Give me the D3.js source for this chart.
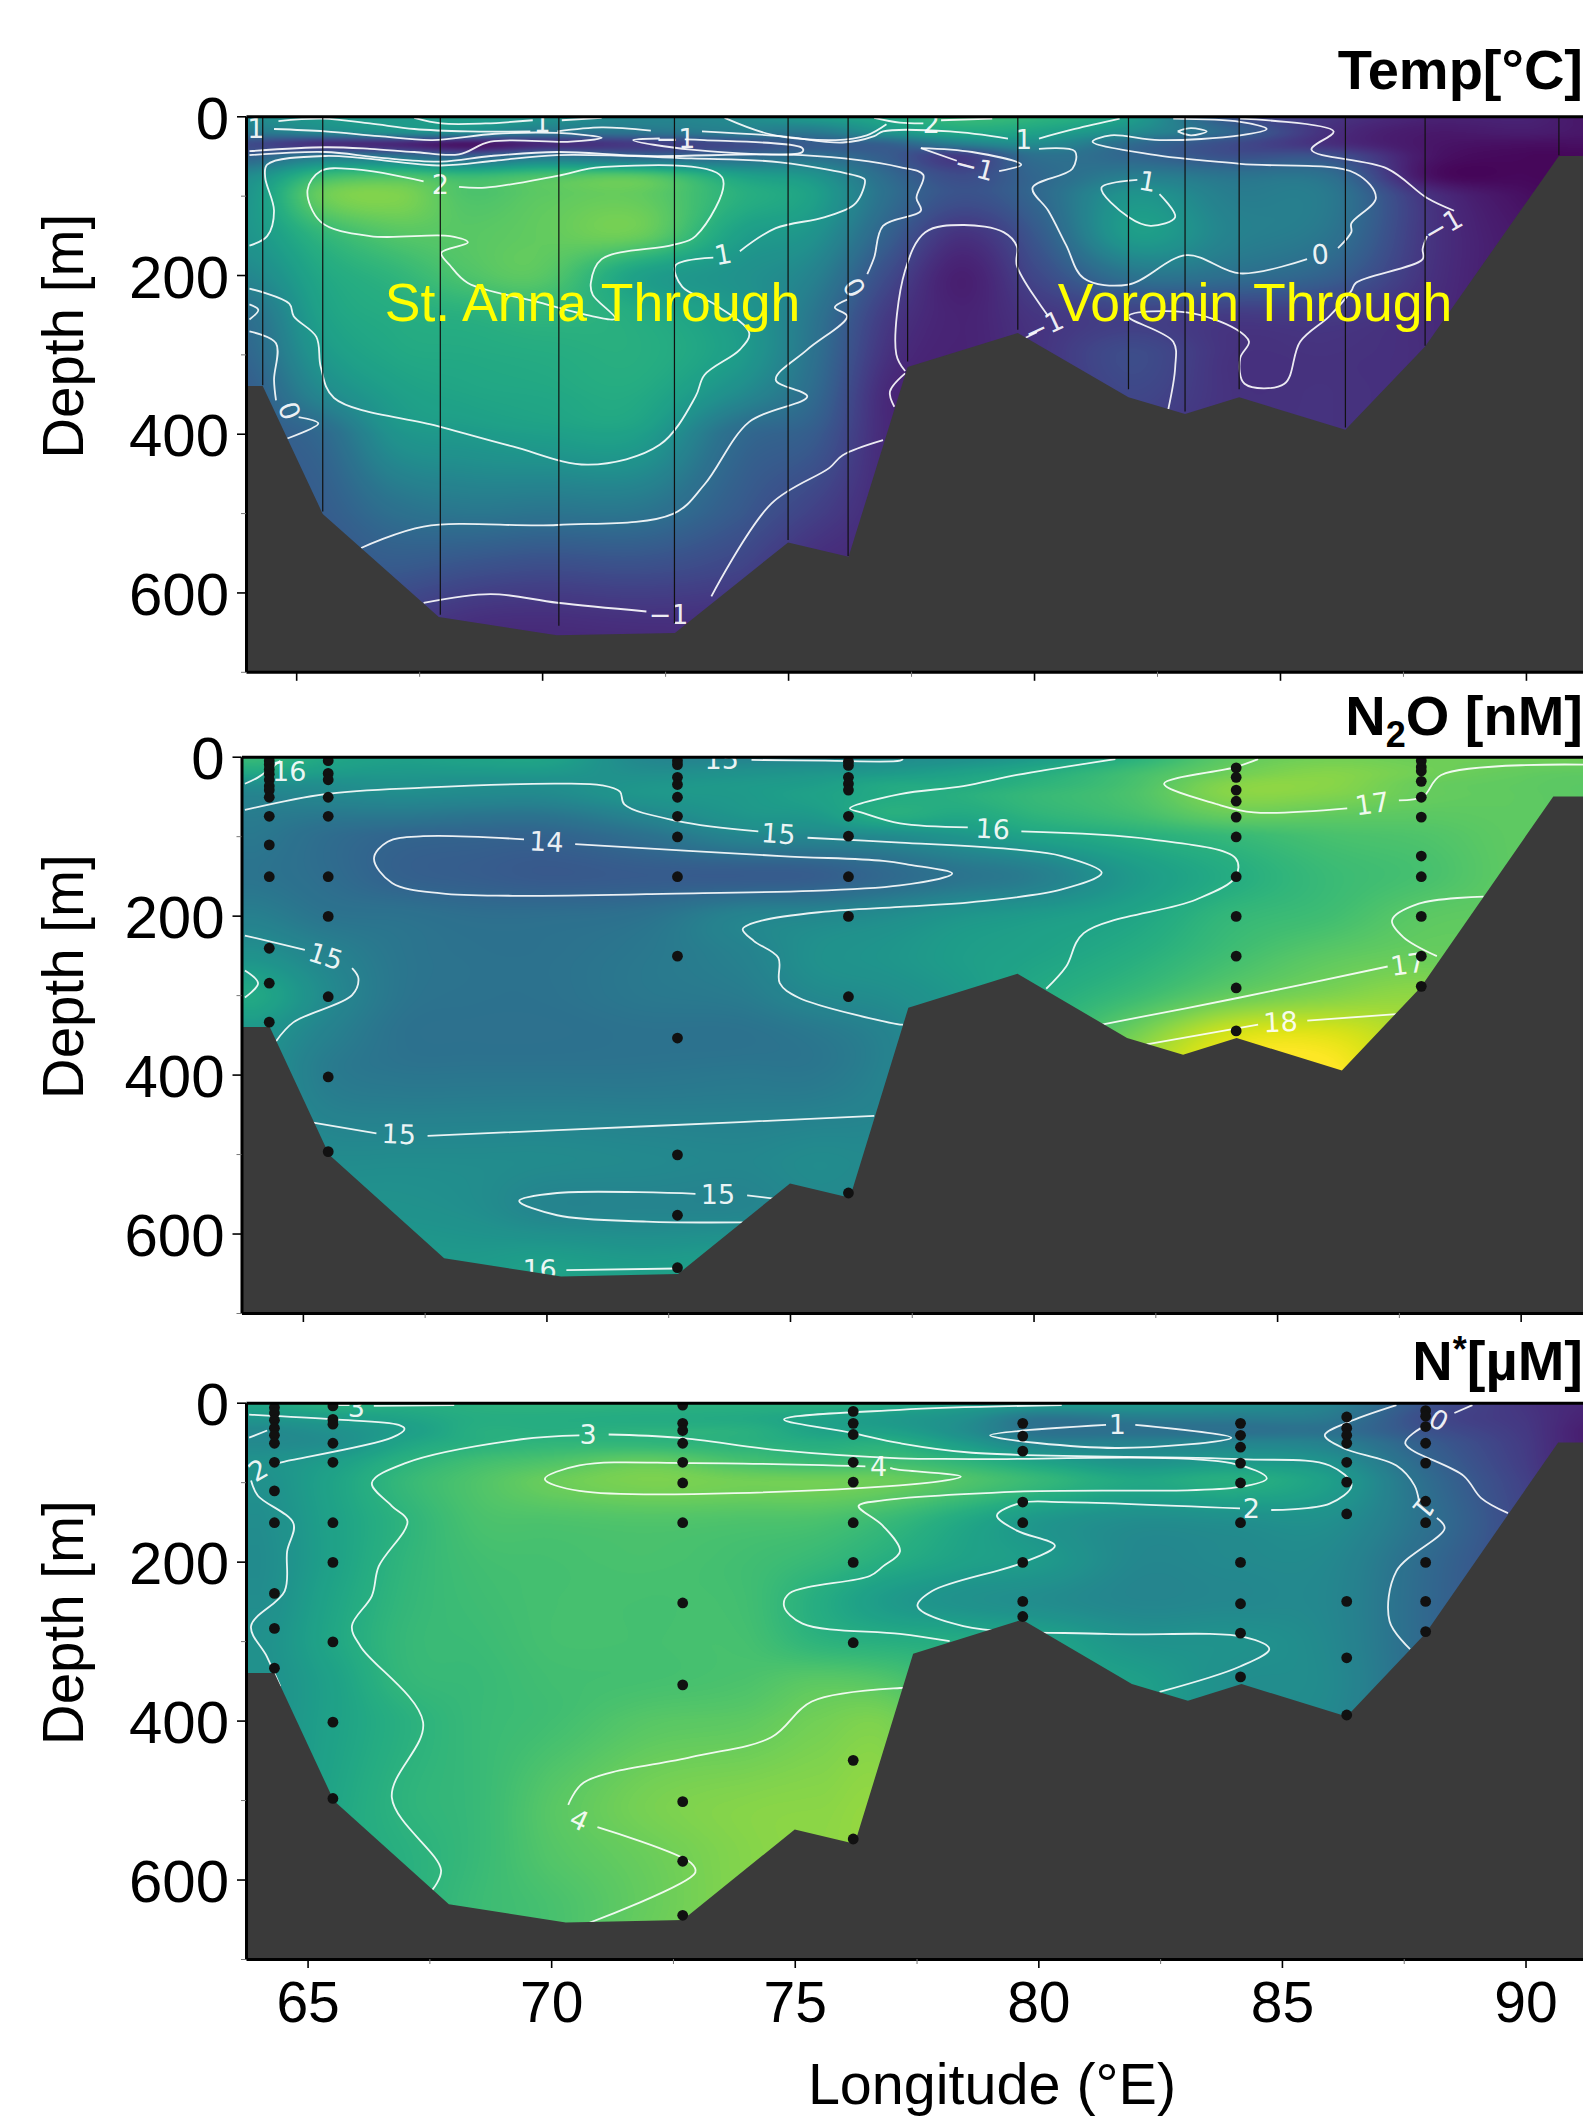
<!DOCTYPE html>
<html>
<head>
<meta charset="utf-8">
<script src="https://cdn.jsdelivr.net/npm/d3@7"></script>
<style>
  html, body { margin: 0; padding: 0; background: #fff; }
  svg { display: block; }
  text { font-family: "Liberation Sans", Arial, sans-serif; }
  .clabel { font-family: "DejaVu Sans", sans-serif; font-size: 27px; fill: #fff; fill-opacity: .92; text-anchor: middle; dominant-baseline: central; }
</style>
</head>
<body>
<script>
// ---- seafloor, shared by the three sections
const bathyLon = [63.5, 64.32, 65.54, 67.9, 70.3, 72.7, 75.0, 76.23, 77.43, 79.67, 81.92, 83.07, 84.17, 86.33, 87.95, 90.67, 91.5];
const bathyDepth = [340, 340, 501, 631, 654, 651, 537, 555, 316, 273, 354, 375, 354, 395, 290, 50, 50];

const lonTicks = [65, 70, 75, 80, 85, 90];
const lonMinor = [67.5, 72.5, 77.5, 82.5, 87.5];
const depthTicks = [0, 200, 400, 600];
const depthMinor = [100, 300, 500, 700];

// ---- field values, one list per longitude, one value per depth in fieldDepths
const fieldLons = [64, 65.5, 67, 68.5, 70, 72, 74, 75.5, 77, 78.5, 80, 82, 84, 86, 88, 90, 91.3];
const fieldDepths = [0, 20, 35, 50, 75, 100, 150, 200, 250, 300, 350, 400, 500, 570, 630, 700];

const tempField = [
  [.7, .3, -.6, -.2, .7, .9, .9, .6, .1, -.1, -.3, -.3, -.3, -.3, -.3, -.3],
  [1, .6, -1.1, .3, 1.7, 2.2, 1.6, 1.3, 1.15, .95, .6, -.05, -.3, -.4, -.5, -.5],
  [1, .8, -1.2, .2, 1.9, 2.4, 2, 1.6, 1.4, 1.3, 1.1, .85, .1, -.35, -.8, -1],
  [1.1, .7, -1.5, -.2, 1.7, 1.95, 2.05, 1.95, 1.5, 1.35, 1.25, 1, .25, -.5, -1.05, -1.3],
  [.9, .3, -1.2, .2, 1.9, 2.1, 2.15, 2.05, 1.6, 1.4, 1.3, 1.1, .2, -.6, -1.1, -1.3],
  [.6, .2, -.9, -.1, 2, 2.15, 2.2, 1.15, 1.4, 1.45, 1.35, 1.1, .2, -.55, -1.05, -1.3],
  [.7, .4, -.6, -.05, 1.2, 1.5, 1.15, .85, 1, 1.05, .7, 0, -.35, -.75, -1.1, -1.2],
  [1.1, .3, -.3, .1, .9, 1.15, .85, .5, .25, .15, 0, -.3, -.8, -1.15, -1.3, -1.4],
  [1.3, .9, -.2, -.3, 0, .1, -.2, -.6, -.9, -1.05, -1.2, -1.2, -1.2, -1.2, -1.2, -1.2],
  [1.7, 1.3, .4, -.9, -.6, -.5, -1.05, -1.35, -1.3, -1.3, -1.3, -1.3, -1.3, -1.3, -1.3, -1.3],
  [1.6, 1.2, .7, .1, -.1, -.1, -.4, -.7, -1, -1.05, -1.1, -1.1, -1.1, -1.1, -1.1, -1.1],
  [1.1, .7, 0, -.1, .4, .9, 1.05, .2, -.8, -.6, -.7, -.9, -.9, -.9, -.9, -.9],
  [-.5, -.1, -.6, -.5, .2, .4, .5, .1, -.9, -1.05, -1.05, -1.05, -1.05, -1.05, -1.05, -1.05],
  [-1, -1.1, -1.1, -.5, .1, .3, .2, -.2, -.9, -1.05, -1.05, -1.05, -1.05, -1.05, -1.05, -1.05],
  [-1.3, -1.45, -1.5, -1.5, -1.55, -1.05, -1, -1.05, -1.15, -1.15, -1.15, -1.15, -1.15, -1.15, -1.15, -1.15],
  [-1.3, -1.4, -1.6, -1.7, -1.7, -1.6, -1.5, -1.5, -1.5, -1.5, -1.5, -1.5, -1.5, -1.5, -1.5, -1.5],
  [-1.5, -1.5, -1.6, -1.7, -1.7, -1.7, -1.7, -1.7, -1.7, -1.7, -1.7, -1.7, -1.7, -1.7, -1.7, -1.7]
];

const n2oField = [
  [16.4, 15.9, 15.2, 14.9, 14.7, 14.6, 14.5, 14.8, 15.3, 15.9, 15.4, 15.3, 15.3, 15.3, 15.3, 15.3],
  [15.9, 15.6, 15.2, 15, 14.6, 14.3, 14.3, 14.5, 14.9, 15.1, 14.85, 14.7, 15.1, 15.3, 15.4, 15.4],
  [15.7, 15.5, 15.3, 15.1, 14.6, 14.1, 14, 14.45, 14.55, 14.55, 14.45, 14.55, 15.1, 15.3, 15.5, 15.5],
  [15.8, 15.5, 15.2, 15.05, 14.5, 14.05, 13.9, 14.35, 14.45, 14.45, 14.4, 14.55, 15.1, 15.2, 15.5, 15.6],
  [15.8, 15.5, 15.2, 15.05, 14.5, 14.05, 13.8, 14.35, 14.45, 14.45, 14.4, 14.55, 15.1, 14.95, 15.6, 15.9],
  [15, 15.2, 15.4, 15.4, 14.95, 14.4, 13.85, 14.45, 14.6, 14.6, 14.45, 14.55, 15.05, 14.95, 15.5, 16],
  [14.9, 15.3, 15.5, 15.5, 15.4, 14.95, 13.85, 14.9, 14.85, 14.7, 14.45, 14.6, 15, 14.95, 15.6, 16],
  [14.95, 15.4, 15.6, 15.7, 15.5, 15, 13.9, 15, 15.25, 15.05, 14.6, 14.6, 15.1, 15.1, 15.6, 16],
  [15.1, 15.5, 15.9, 15.95, 16.05, 15.1, 14.2, 15.15, 15.4, 15.2, 14.9, 14.9, 15.1, 15.1, 15.6, 16],
  [15.2, 15.7, 15.95, 16.1, 15.9, 15.4, 14.5, 15.4, 15.6, 15.5, 15.5, 15.5, 15.5, 15.5, 15.5, 15.5],
  [15.5, 16, 16.2, 16.35, 16.2, 15.75, 14.75, 15.55, 15.75, 15.95, 16.1, 16.1, 16.1, 16.1, 16.1, 16.1],
  [16.1, 16.5, 16.6, 16.65, 16.5, 16.05, 15.5, 15.8, 16.05, 16.4, 17.1, 17.6, 17.6, 17.6, 17.6, 17.6],
  [16.85, 17.05, 17.3, 17.3, 16.95, 16.35, 16, 16.3, 16.5, 16.95, 18.1, 18.5, 18.5, 18.5, 18.5, 18.5],
  [17.1, 17.3, 17.35, 17.25, 16.9, 16.6, 16.4, 16.5, 16.85, 17.25, 18.2, 18.6, 18.6, 18.6, 18.6, 18.6],
  [17.05, 17.1, 17, 16.98, 16.85, 16.7, 16.6, 16.85, 17, 17.4, 17.6, 17.6, 17.6, 17.6, 17.6, 17.6],
  [17.1, 16.95, 16.9, 16.9, 16.9, 16.9, 16.9, 16.9, 16.9, 16.9, 16.9, 16.9, 16.9, 16.9, 16.9, 16.9],
  [17.1, 16.9, 16.85, 16.85, 16.85, 16.85, 16.85, 16.85, 16.85, 16.85, 16.85, 16.85, 16.85, 16.85, 16.85, 16.85]
];

const nstarField = [
  [2.7, 2.2, 1.8, 1.8, 2.05, 2, 1.9, 1.85, 1.9, 2, 2, 2, 2, 2, 2, 2],
  [3, 2.4, 2.05, 1.95, 2.4, 2.55, 2.5, 2.5, 2.6, 2.65, 2.5, 2.5, 2.6, 2.7, 2.75, 2.75],
  [2.9, 2.6, 2.4, 2.6, 3, 3.2, 3.05, 3.1, 3.15, 3.2, 3.15, 2.95, 3.05, 2.95, 2.95, 2.95],
  [3, 2.85, 2.9, 2.95, 3.4, 3.6, 3.5, 3.4, 3.35, 3.3, 3.25, 3.25, 3.25, 3.25, 3.3, 3.3],
  [3.05, 2.85, 2.9, 3.1, 3.6, 3.95, 3.55, 3.45, 3.45, 3.45, 3.4, 3.4, 3.7, 3.65, 3.5, 3.5],
  [3.05, 2.8, 3, 3.1, 3.9, 4.15, 3.6, 3.5, 3.45, 3.45, 3.45, 3.7, 4.1, 3.95, 3.9, 4],
  [3, 2.75, 2.95, 3, 3.5, 4.05, 3.55, 3.4, 3.4, 3.45, 3.55, 3.8, 4.25, 4.25, 4.25, 4.25],
  [3, 2.55, 2.55, 2.85, 3.3, 4.05, 3.5, 3.2, 2.85, 3.05, 3.75, 4.05, 4.3, 4.35, 4.35, 4.35],
  [2.8, 2.3, 2.45, 2.9, 3.4, 3.95, 3.2, 2.85, 2.3, 2.9, 3.6, 4.1, 4.3, 4.3, 4.3, 4.3],
  [2.5, 2, 1.9, 2.3, 3.1, 3.6, 2.7, 2.5, 2.05, 2.8, 3, 3, 3, 3, 3, 3],
  [2.4, 1.2, 1.1, 1.6, 2.6, 3.2, 2.2, 2.3, 1.9, 2.6, 2.6, 2.6, 2.6, 2.6, 2.6, 2.6],
  [2.3, 1.4, 1.05, 1.6, 2.1, 2.7, 1.9, 1.75, 1.7, 2.1, 2.45, 2.45, 2.45, 2.45, 2.45, 2.45],
  [2.1, 1.4, 1.05, 1.65, 2.3, 2.9, 1.95, 1.8, 1.75, 2.05, 1.95, 1.95, 1.95, 1.95, 1.95, 1.95],
  [1.6, 1.3, 1.05, 1.5, 2.05, 2.4, 1.95, 1.75, 1.7, 1.75, 1.8, 1.75, 1.75, 1.75, 1.75, 1.75],
  [.25, .05, .2, .5, .75, .95, 1.05, .85, .8, .8, .8, .8, .8, .8, .8, .8],
  [-.5, -.45, -.4, -.35, -.3, -.2, -.1, -.1, -.1, -.1, -.1, -.1, -.1, -.1, -.1, -.1],
  [-.8, -.9, -1, -1, -1, -1, -1, -1, -1, -1, -1, -1, -1, -1, -1, -1]
];

// ---- Temp contours, [lon, depth]
const tempContours = [
  [[64.64,6],[65.54,3],[66.5,9],[67.4,16],[68.49,19],[69.76,19]],
  [[70.31,19],[71.21,14],[72.21,18]],
  [[67.4,2],[67.95,9],[68.85,9],[69.81,5]],
  [[70.4,5],[71.21,2]],
  [[64.55,16],[65.59,19],[66.68,25],[67.77,30],[69.04,22],[70.31,21],[71.21,27],[70.58,32],[68.95,32],[68.31,48],[67.4,45],[66.5,41],[65.59,39],[64.05,44]],
  [[64.05,49],[65.59,45],[66.68,52],[67.95,57],[68.95,50],[70.31,45],[72.12,50],[75.29,49],[77.27,64],[77.75,74],[77.61,103],[77.7,119],[76.93,138],[76.75,178],[76.61,199]],
  [[76.2,231],[75.95,241],[76.2,252],[75.39,294],[74.75,332],[75.39,353],[74.21,385],[73.3,464],[72.66,501],[70.31,515],[67.59,517],[66.32,544]],
  [[64.05,163],[64.41,151],[64.55,119],[64.37,77],[64.41,61],[65.59,50],[67.95,62],[69.04,56],[70.31,49],[73.03,53],[74.84,58],[76.49,77],[76.56,80],[76.38,109],[75.75,127],[74.75,141],[74.02,170]],
  [[73.48,178],[72.71,188],[72.85,215],[73.48,236],[74.21,273],[74.02,294],[73.3,326],[73.12,353],[72.39,414],[70.94,439],[69.4,416],[67.86,390],[65.77,355],[65.5,316],[65.41,278],[64.95,252],[64.86,236],[64.05,217]],
  [[72.39,28],[71.85,30],[73.03,42],[75.29,45],[75.29,40],[73.3,30],[72.9,29]],
  [[76.75,2],[77.27,8],[77.75,9]],
  [[78.11,5],[79.15,3]],
  [[73.25,19],[74.84,25],[76.11,33],[76.75,25],[76.93,19],[78.29,19],[79.47,28]],
  [[80.1,28],[80.83,16],[81.74,3]],
  [[73.71,2],[74.66,23],[75.97,30],[76.6,24],[77,10]],
  [[80.1,41],[80.83,44],[80.78,66],[79.97,90],[80.29,119],[80.65,162],[81.01,204],[81.92,212],[83.1,175],[84.19,198],[85.55,180]],
  [[86.18,166],[86.45,146],[86.45,135],[86.95,103],[86.54,72],[84.19,60],[82.37,48],[81.19,32],[81.56,24],[82.55,30],[84.19,24],[84.73,16],[84.19,7],[82.83,3]],
  [[82.92,19],[83.19,15],[83.51,19],[83.19,24],[82.92,19]],
  [[84.19,3],[86.09,19],[85.64,42],[87.18,66],[87.99,103],[88.54,119]],
  [[87.99,151],[87.9,167],[87.9,180],[86.54,210],[86.45,220],[86,252],[85.41,284],[85.09,337],[84.28,337],[84.19,305],[84.37,284],[84.1,268],[83.1,247],[81.92,252],[82.83,284],[82.87,316],[82.73,369]],
  [[77.38,321],[77.2,300],[77.38,194],[77.79,146],[78.56,137],[79.38,146],[79.65,164],[79.65,188],[80.29,252]],
  [[79.83,279],[80.06,272]],
  [[77.38,324],[77.07,347],[77.16,366]],
  [[77.7,40],[78.43,56]],
  [[79.29,69],[79.74,61],[78.74,45],[77.7,40]],
  [[73.44,605],[74.66,488],[75.84,443],[76.11,427],[76.93,408]],
  [[67.59,613],[68.95,602],[70.31,613],[72.12,624]],
  [[64.05,271],[64.59,286],[64.55,332],[64.59,358]],
  [[64.82,406],[65.45,387],[65.05,379]],
  [[64.05,237],[64.23,244],[64.05,256]],
  [[67.59,82],[66.22,67],[65.5,69],[65.23,93],[65.5,133],[66.5,151],[68.13,151],[68.49,159],[67.95,172],[68.13,188],[68.49,210],[69.85,233],[71.03,252],[71.49,255],[71.03,225],[70.99,210],[71.21,180],[72.66,162],[73.12,151],[73.66,77],[71.21,64],[70.31,75],[68.85,90],[68.31,89]],
  [[82.1,80],[81.37,90],[81.92,127],[82.37,138],[82.87,127],[82.55,98]]
];
// lon, depth, text, rotation
const tempLabels = [
  [64.18,16,"1",0],[70,8,"1",0],[72.71,28,"−1",0],[67.93,86,"2",0],[73.68,174,"1",-10],[76.34,216,"0",60],
  [64.86,371,"0",70],[72.57,628,"−1",0],[77.91,9,"2",0],[79.79,29,"1",0],[78.79,64,"−1",15],[82.31,82,"1",10],
  [85.82,174,"0",-5],[88.31,138,"−1",-30],[80.2,265,"−1",-25]
];
const tempStationLon = [64.32, 65.54, 67.93, 70.34, 72.69, 75, 76.22, 77.43, 79.67, 81.92, 83.07, 84.17, 86.33, 87.95, 90.67];
const tempStationBottom = [339, 498, 628, 642, 639, 534, 554, 309, 269, 344, 372, 344, 392, 289, 49];

// ---- N2O contours
const n2oContours = [
  [[63.81,67],[65.46,47],[67.47,39],[70.22,34],[71.14,36],[71.51,44],[71.6,60],[72.7,81],[74.35,94]],
  [[75.36,102],[77.26,108],[79.66,117],[80.58,125],[81.4,146],[80.58,167],[78.74,183],[77.26,189],[75.72,195],[74.44,206],[74.03,217],[74.26,232],[74.76,253],[74.79,285],[75.17,303],[77.26,337],[77.32,337]],
  [[69.54,104],[67.47,100],[66.74,107],[66.46,128],[66.83,159],[67.84,172],[69.31,175],[72.06,173],[77.26,162],[78.33,147],[77.46,136],[76.91,131],[74.81,125],[70.59,110]],
  [[63.81,34],[64.08,26],[64.54,5]],
  [[63.81,225],[65.04,243]],
  [[66.01,266],[66.14,279],[66.01,300],[64.81,334],[64.45,358]],
  [[63.81,269],[64.08,285],[63.81,303]],
  [[65.18,460],[66.51,474]],
  [[67.56,477],[72.06,465],[76.73,452]],
  [[73.06,550],[70.22,549],[69.44,559],[70.22,577],[72.06,585],[74.03,586]],
  [[74.12,552],[74.67,556]],
  [[70.41,646],[72.7,644]],
  [[74.21,4],[75.72,5],[77.26,5],[77.32,3]],
  [[78.65,89],[77.26,84],[76.46,70],[76.23,65],[77.26,47],[78.56,37],[79.66,23],[81.68,3]],
  [[79.75,94],[82.41,104],[84.15,128],[84.15,151],[83.33,180],[81.03,222],[80.67,264],[80.26,292]],
  [[84.61,3],[84.15,13],[82.68,34],[83.78,60],[84.52,70],[86.44,65]],
  [[87.5,55],[88,50],[88.37,23],[91.28,10]],
  [[89.24,176],[87.91,185],[87.36,206],[87.59,227],[88.28,251]],
  [[81.4,337],[84.24,303],[87.27,264]],
  [[82.32,362],[84.61,337]],
  [[85.62,332],[87.45,324]]
];
const n2oLabels = [
  [64.72,18,"16",0],[73.6,3,"15",0],[70,107,"14",3],[74.76,97,"15",4],[65.47,251,"15",18],[66.97,475,"15",2],
  [73.52,551,"15",0],[69.86,645,"16",0],[79.16,91,"16",3],[86.95,59,"17",-8],[87.68,261,"17",-8],[85.07,334,"18",-3]
];
const n2oStationLon = [64.31, 65.52, 72.69, 76.2, 84.16, 87.96];
const n2oStationDepths = [
  [5, 10, 16, 22, 29, 37, 42, 51, 75, 111, 151, 241, 285, 334],
  [5, 21, 29, 51, 75, 151, 201, 302, 403, 497],
  [5, 10, 26, 35, 51, 75, 101, 151, 251, 354, 501, 577, 643],
  [6, 11, 26, 34, 42, 75, 100, 151, 201, 302, 549],
  [14, 26, 42, 56, 76, 101, 151, 201, 251, 291, 345],
  [5, 13, 18, 31, 51, 76, 125, 151, 201, 251, 289]
];

// ---- N* contours
const nstarContours = [
  [[66.36,4],[68.01,3]],
  [[65.63,3],[65.86,3]],
  [[63.8,15],[65.54,21],[66.87,28],[66.99,33],[66.73,44],[64.53,74],[64.26,78]],
  [[63.84,98],[63.98,117],[64.71,152],[64.58,187],[64.53,237],[63.84,281],[64.16,319],[64.44,357]],
  [[63.8,44],[64.17,35]],
  [[70.58,41],[69.39,46],[67.01,76],[66.32,101],[66.73,130],[67.05,149],[66.46,206],[66.32,243],[65.91,281],[66.09,307],[67.37,402],[66.73,497],[67.74,588],[67.56,613]],
  [[71.18,40],[72.6,44],[74.71,60],[77.16,70],[78.64,71],[83.96,76],[84.69,95],[84.14,106],[79.56,112],[76.81,123],[76.31,130],[76.81,155],[77.16,187],[76.81,206],[76.54,218],[74.89,240],[74.78,256],[75.16,278],[77.16,291],[78.18,300]],
  [[76.45,80],[72.87,76],[70.58,79],[69.87,96],[70.58,111],[77.16,104],[78.41,93],[77.09,84],[76.96,82]],
  [[80.48,3],[77.16,9],[74.78,21],[76.17,38],[77.16,51],[78.64,63],[84.14,71],[85.98,79],[86.43,104],[85.98,127],[84.78,135]],
  [[84.14,133],[80.48,125],[79.65,126],[79.15,142],[79.56,161],[80.34,180],[79.65,202],[77.82,237],[77.52,256],[78.46,281],[81.39,291],[84.23,295],[84.74,310],[84.14,332],[82.49,364]],
  [[87.35,3],[86.34,25],[85.88,41],[86.25,57],[87.35,79],[87.72,104],[87.81,123]],
  [[88.18,145],[88.34,158],[87.35,212],[87.21,275],[87.63,310]],
  [[88.91,3],[88.54,13]],
  [[87.85,32],[87.53,51],[88.73,92],[89.09,120],[89.64,139]],
  [[81.39,28],[79.01,41],[81.58,57],[83.96,44],[81.99,28]],
  [[70.35,506],[70.67,478],[72.87,446],[74.52,421],[75.35,376],[77.16,359],[77.3,359]],
  [[70.95,534],[72.87,579],[72.96,591],[70.76,655]]
];
const nstarLabels = [
  [66,6,"3",0],[63.98,85,"2",-30],[70.76,40,"3",0],[76.72,80,"4",0],[70.58,525,"4",25],
  [81.62,27,"1",0],[84.37,133,"2",0],[87.9,133,"1",130],[88.22,22,"0",30]
];
const nstarStationLon = [64.32, 65.52, 72.7, 76.2, 79.68, 84.15, 86.33, 87.95];
const nstarStationDepths = [
  [6, 13, 22, 32, 41, 51, 75, 111, 151, 240, 284, 334],
  [4, 21, 27, 51, 75, 151, 201, 301, 402, 498],
  [3, 26, 35, 51, 75, 101, 151, 252, 355, 502, 577, 645],
  [11, 26, 40, 75, 100, 151, 201, 302, 450, 549],
  [26, 42, 61, 125, 151, 201, 250, 269],
  [26, 41, 56, 76, 101, 151, 201, 253, 290, 345],
  [18, 32, 41, 51, 75, 100, 140, 250, 321, 393],
  [10, 17, 30, 51, 76, 124, 151, 201, 250, 288]
];

// ---- layout of the three panels
const panels = [
  { id: "temp", field: tempField, color: [-1.8, 3.4], contours: tempContours, labels: tempLabels,
    left: 246, top: 116.3, bottom: 671.8, lon: [63.98, 91.16] },
  { id: "n2o", field: n2oField, color: [12, 18.5], contours: n2oContours, labels: n2oLabels,
    left: 241.5, top: 756.7, bottom: 1313, lon: [63.74, 91.28],
    stationLon: n2oStationLon, stationDepths: n2oStationDepths },
  { id: "nstar", field: nstarField, color: [-1.57, 5.57], contours: nstarContours, labels: nstarLabels,
    left: 246, top: 1402.7, bottom: 1959, lon: [63.736, 91.18],
    stationLon: nstarStationLon, stationDepths: nstarStationDepths }
];

const W = 1583, H = 2116;
const svg = d3.select("body").append("svg").attr("width", W).attr("height", H);

// catmull-rom weights, used to smooth the coarse field when it is painted
function cubicWeights(t) {
  return [
    -.5 * t * t * t + t * t - .5 * t,
    1.5 * t * t * t - 2.5 * t * t + 1,
    -1.5 * t * t * t + 2 * t * t + .5 * t,
    .5 * t * t * t - .5 * t * t
  ];
}

function paintField(p, x, y) {
  const w = Math.ceil(W - p.left), h = Math.ceil(p.bottom - p.top);
  const canvas = document.createElement("canvas");
  canvas.width = w; canvas.height = h;
  const ctx = canvas.getContext("2d");
  const img = ctx.createImageData(w, h);

  const lonIdx = d3.scaleLinear().domain(fieldLons).range(d3.range(fieldLons.length)).clamp(true);
  const depIdx = d3.scaleLinear().domain(fieldDepths).range(d3.range(fieldDepths.length)).clamp(true);
  const nx = fieldLons.length, ny = fieldDepths.length;
  const color = d3.scaleSequential(d3.interpolateViridis).domain(p.color).clamp(true);

  // lookup table, calling the colour scale per pixel is slow
  const lut = d3.range(512).map(i => d3.rgb(color(p.color[0] + (p.color[1] - p.color[0]) * i / 511)));

  const colPos = d3.range(w).map(i => {
    const u = lonIdx(x.invert(p.left + i + .5)), i0 = Math.min(Math.floor(u), nx - 2);
    return { i0: i0, wt: cubicWeights(u - i0) };
  });
  const rowPos = d3.range(h).map(j => {
    const v = depIdx(y.invert(p.top + j + .5)), j0 = Math.min(Math.floor(v), ny - 2);
    return { j0: j0, wt: cubicWeights(v - j0) };
  });

  for (let j = 0; j < h; j++) {
    const r = rowPos[j];
    for (let i = 0; i < w; i++) {
      const c = colPos[i];
      let val = 0;
      for (let a = 0; a < 4; a++) {
        const col = p.field[Math.max(0, Math.min(nx - 1, c.i0 - 1 + a))];
        for (let b = 0; b < 4; b++) {
          val += c.wt[a] * r.wt[b] * col[Math.max(0, Math.min(ny - 1, r.j0 - 1 + b))];
        }
      }
      const t = Math.max(0, Math.min(511, Math.round((val - p.color[0]) / (p.color[1] - p.color[0]) * 511)));
      const o = (j * w + i) * 4, rgb = lut[t];
      img.data[o] = rgb.r; img.data[o + 1] = rgb.g; img.data[o + 2] = rgb.b; img.data[o + 3] = 255;
    }
  }
  ctx.putImageData(img, 0, 0);
  return canvas.toDataURL("image/png");
}

panels.forEach((p, k) => {
  const x = d3.scaleLinear().domain(p.lon).range([p.left, W]);
  const y = d3.scaleLinear().domain([0, 700]).range([p.top, p.bottom]);
  const g = svg.append("g").attr("id", p.id);

  const clipId = "clip-" + p.id;
  svg.append("clipPath").attr("id", clipId).append("rect")
    .attr("x", p.left).attr("y", p.top).attr("width", W - p.left).attr("height", p.bottom - p.top);

  const plot = g.append("g").attr("clip-path", "url(#" + clipId + ")");

  plot.append("image")
    .attr("x", p.left).attr("y", p.top)
    .attr("width", Math.ceil(W - p.left)).attr("height", Math.ceil(p.bottom - p.top))
    .attr("preserveAspectRatio", "none")
    .attr("href", paintField(p, x, y));

  const line = d3.line().x(d => x(d[0])).y(d => y(d[1])).curve(d3.curveCatmullRom.alpha(.5));

  plot.selectAll("path.contour").data(p.contours).enter().append("path")
    .attr("class", "contour")
    .attr("d", line)
    .attr("fill", "none")
    .attr("stroke", "#fff")
    .attr("stroke-opacity", .9)
    .attr("stroke-width", 1.8);

  plot.selectAll("text.clabel").data(p.labels).enter().append("text")
    .attr("class", "clabel")
    .attr("transform", d => "translate(" + x(d[0]) + "," + y(d[1]) + ") rotate(" + d[3] + ")")
    .text(d => d[2]);

  const area = d3.area()
    .x((d, i) => x(bathyLon[i]))
    .y0(y(700))
    .y1(d => y(d));
  plot.append("path").datum(bathyDepth).attr("d", area).attr("fill", "#3a3a3a");

  if (p.id === "temp") {
    plot.selectAll("line.station").data(tempStationLon).enter().append("line")
      .attr("class", "station")
      .attr("x1", d => x(d)).attr("x2", d => x(d))
      .attr("y1", y(0)).attr("y2", (d, i) => y(tempStationBottom[i]))
      .attr("stroke", "#111").attr("stroke-width", 1.2);

    plot.append("text").attr("x", x(66.8)).attr("y", y(258)).attr("fill", "#ffff00")
      .attr("font-size", 53.5).text("St. Anna Through");
    plot.append("text").attr("x", x(80.48)).attr("y", y(258)).attr("fill", "#ffff00")
      .attr("font-size", 53.5).text("Voronin Through");
  } else {
    p.stationLon.forEach((lon, i) => {
      plot.selectAll(null).data(p.stationDepths[i]).enter().append("circle")
        .attr("cx", x(lon))
        .attr("cy", d => y(d))
        .attr("r", 5.4)
        .attr("fill", "#111");
    });
  }

  // axes
  const axisStyle = sel => {
    sel.selectAll("path.domain").attr("stroke", "#000").attr("stroke-width", 3);
    sel.selectAll("text").attr("fill", "#000");
  };

  const bottomMajor = d3.axisBottom(x).tickValues(lonTicks).tickSize(9).tickPadding(14).tickSizeOuter(0);
  if (k < 2) bottomMajor.tickFormat("");
  const bottomAxis = g.append("g").attr("transform", "translate(0," + y(700) + ")").call(bottomMajor).call(axisStyle);
  bottomAxis.selectAll(".tick line").attr("stroke-width", 1.6);
  bottomAxis.selectAll("text").attr("font-size", 57);

  g.append("g").attr("transform", "translate(0," + y(700) + ")")
    .call(d3.axisBottom(x).tickValues(lonMinor).tickSize(5).tickFormat("").tickSizeOuter(0))
    .call(s => s.select(".domain").remove())
    .selectAll(".tick line").attr("stroke", "#777").attr("stroke-width", 1);

  const leftAxis = g.append("g").attr("transform", "translate(" + p.left + ",0)")
    .call(d3.axisLeft(y).tickValues(depthTicks).tickSize(9).tickPadding(8).tickSizeOuter(0))
    .call(axisStyle);
  leftAxis.selectAll(".tick line").attr("stroke-width", 1.6);
  leftAxis.selectAll("text").attr("font-size", 60).attr("dy", "0.37em");

  g.append("g").attr("transform", "translate(" + p.left + ",0)")
    .call(d3.axisLeft(y).tickValues(depthMinor).tickSize(5).tickFormat("").tickSizeOuter(0))
    .call(s => s.select(".domain").remove())
    .selectAll(".tick line").attr("stroke", "#777").attr("stroke-width", 1);

  g.append("g").attr("transform", "translate(0," + y(0) + ")")
    .call(d3.axisTop(x).tickValues([]).tickSizeOuter(0)).call(axisStyle);

  g.append("text")
    .attr("transform", "translate(63," + (p.top + 220) + ") rotate(-90)")
    .attr("text-anchor", "middle").attr("dominant-baseline", "central")
    .attr("font-size", 56.5).attr("fill", "#000")
    .text("Depth [m]");
});

// titles
const title = (yPos, size) => svg.append("text")
  .attr("x", W).attr("y", yPos).attr("text-anchor", "end")
  .attr("font-size", size).attr("font-weight", "bold").attr("fill", "#000");

title(89, 56).text("Temp[°C]");

const t2 = title(735, 56);
t2.append("tspan").text("N");
t2.append("tspan").attr("font-size", 36).attr("dy", 12).text("2");
t2.append("tspan").attr("dy", -12).text("O [nM]");

const t3 = title(1380, 56);
t3.append("tspan").text("N");
t3.append("tspan").attr("font-size", 36).attr("dy", -18).text("*");
t3.append("tspan").attr("dy", 18).text("[µM]");

svg.append("text")
  .attr("x", 992).attr("y", 2104).attr("text-anchor", "middle")
  .attr("font-size", 57.5).attr("fill", "#000")
  .text("Longitude (°E)");
</script>
</body>
</html>
